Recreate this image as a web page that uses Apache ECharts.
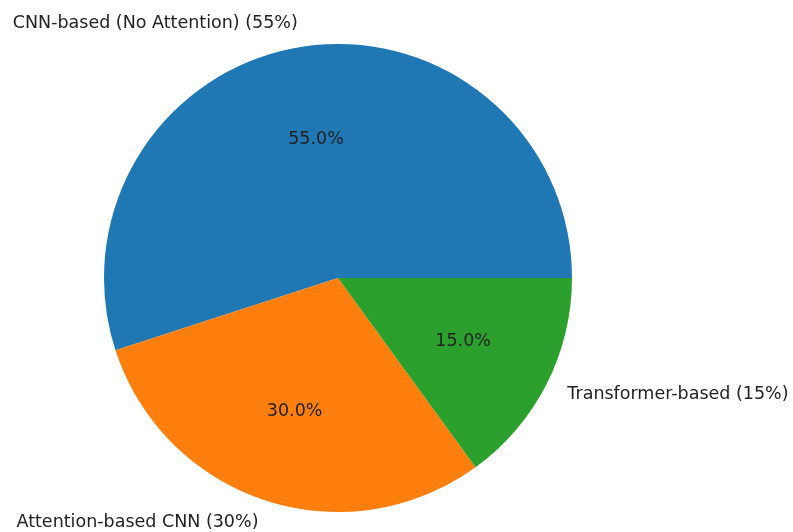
<!DOCTYPE html>
<html>
<head>
<meta charset="utf-8">
<script src="https://cdn.jsdelivr.net/npm/echarts@6/dist/echarts.min.js"></script>
<style>
  html, body { margin: 0; padding: 0; background: #ffffff; }
  #chart { width: 793px; height: 532px; }
</style>
</head>
<body>
<div id="chart"></div>
<script>
// Share of model families
const categories = ['CNN-based (No Attention)', 'Attention-based CNN', 'Transformer-based'];
const shares = [55, 30, 15];
const colors = ['#1f77b4', '#ff7f0e', '#2ca02c'];

const total = shares.reduce((a, b) => a + b, 0);
const CX = 338, CY = 278, R = 234;
const FONT = 'DejaVu Sans';
const FS = 17.5;

// mid-angle of each wedge (counter-clockwise from 3 o'clock)
let acc = 0;
const midAngles = shares.map(v => {
  const a0 = acc;
  acc += v / total * 360;
  return (a0 + acc) / 2;
});

// place a label on the wedge's bisector at a fraction of the radius
function radialLayout(frac, sideAligned) {
  return function (params) {
    const a = midAngles[params.dataIndex] * Math.PI / 180;
    return {
      x: CX + frac * R * Math.cos(a),
      y: CY - frac * R * Math.sin(a),
      align: sideAligned ? (Math.cos(a) >= 0 ? 'left' : 'right') : 'center',
      verticalAlign: 'middle'
    };
  };
}

const baseData = categories.map((c, i) => ({
  name: c,
  value: shares[i],
  itemStyle: { color: colors[i] }
}));

const ghost = { color: 'rgba(0,0,0,0)', borderWidth: 0 };

const option = {
  animation: false,
  backgroundColor: '#ffffff',
  series: [
    {
      // the wedges
      type: 'pie',
      center: [CX, CY],
      radius: R,
      startAngle: 0,
      clockwise: false,
      silent: true,
      label: { show: false },
      labelLine: { show: false },
      data: baseData
    },
    {
      // percentage labels at 0.6 radius
      type: 'pie',
      center: [CX, CY],
      radius: [0.2 * R, R],
      startAngle: 0,
      clockwise: false,
      silent: true,
      itemStyle: ghost,
      labelLine: { show: false },
      label: {
        show: true,
        position: 'inside',
        fontFamily: FONT,
        fontSize: FS,
        color: '#222222',
        formatter: p => (p.value / total * 100).toFixed(1) + '%'
      },
      labelLayout: radialLayout(0.6, false),
      data: categories.map((c, i) => ({ name: c, value: shares[i] }))
    },
    {
      // category labels at 1.1 radius, anchored on the side facing away from the pie
      type: 'pie',
      center: [CX, CY],
      radius: [R, 1.2 * R],
      startAngle: 0,
      clockwise: false,
      silent: true,
      itemStyle: ghost,
      labelLine: { show: false },
      label: {
        show: true,
        position: 'inside',
        fontFamily: FONT,
        fontSize: FS,
        color: '#222222',
        formatter: p => p.name + ' (' + p.value + '%)'
      },
      labelLayout: radialLayout(1.1, true),
      data: categories.map((c, i) => ({ name: c, value: shares[i] }))
    }
  ]
};

const chart = echarts.init(document.getElementById('chart'), null, { renderer: 'canvas' });
chart.setOption(option);
</script>
</body>
</html>
